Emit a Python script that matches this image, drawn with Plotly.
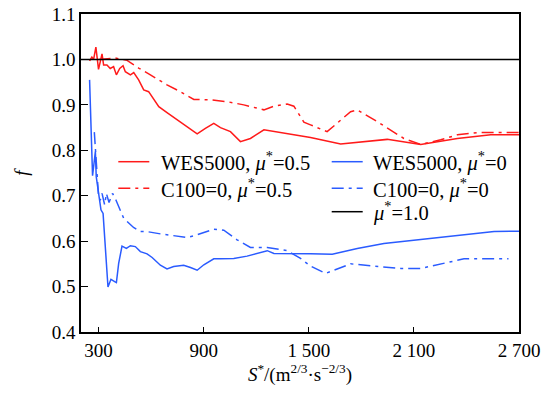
import plotly.graph_objects as go

# WES5000, mu*=0.5 (red solid)
red_solid_x = [249, 262, 272, 285, 300, 311, 320, 329, 348, 367, 386, 402, 421, 440, 453, 482, 501, 529, 558, 586,
               615, 644, 691, 739, 796, 863, 910, 958, 996, 1053, 1110, 1167, 1244, 1396, 1510, 1682, 1948, 2139,
               2348, 2539, 2700]
red_solid_y = [0.997, 1.005, 1.0, 1.027, 0.978, 1.0, 1.012, 0.988, 0.988, 0.980, 0.984, 0.966, 0.980, 0.986, 0.973,
               0.966, 0.971, 0.955, 0.933, 0.929, 0.911, 0.896, 0.883, 0.870, 0.853, 0.836, 0.848, 0.859, 0.850,
               0.841, 0.819, 0.826, 0.845, 0.835, 0.828, 0.814, 0.824, 0.813, 0.826, 0.834, 0.834]

# C100=0, mu*=0.5 (red dash-dot)
red_dd_x = [300, 396, 463, 529, 596, 691, 767, 844, 939, 1034, 1129, 1244, 1301, 1377, 1415, 1472, 1510, 1605,
            1739, 1777, 1891, 2043, 2139, 2253, 2348, 2463, 2700]
red_dd_y = [1.0, 1.003, 0.998, 0.981, 0.966, 0.944, 0.929, 0.912, 0.911, 0.907, 0.900, 0.889, 0.897, 0.902, 0.897,
            0.862, 0.856, 0.841, 0.885, 0.889, 0.863, 0.826, 0.813, 0.823, 0.834, 0.839, 0.839]

# WES5000, mu*=0 (blue solid)
blue_solid_x = [249, 266, 282, 287, 314, 326, 354, 371, 392, 402, 415, 434, 459, 482, 510, 539, 577, 606, 653, 691,
                729, 786, 825, 863, 901, 958, 996, 1072, 1148, 1206, 1263, 1301, 1415, 1510, 1634, 1777, 1929, 2158,
                2386, 2558, 2700]
blue_solid_y = [0.955, 0.744, 0.797, 0.742, 0.669, 0.661, 0.499, 0.516, 0.511, 0.509, 0.551, 0.589, 0.584, 0.590,
                0.588, 0.577, 0.572, 0.564, 0.547, 0.539, 0.544, 0.547, 0.542, 0.536, 0.548, 0.561, 0.561, 0.562,
                0.567, 0.573, 0.579, 0.573, 0.573, 0.572, 0.571, 0.584, 0.595, 0.604, 0.614, 0.621, 0.622]

# C100=0, mu*=0 (blue dash-dot)
blue_dd_x = [276, 300, 310, 320, 335, 345, 360, 380, 400, 420, 444, 500, 539, 577, 653, 806, 863, 958, 1015, 1091,
             1167, 1263, 1377, 1453, 1510, 1596, 1739, 1872, 2024, 2139, 2253, 2386, 2640]
blue_dd_y = [0.84, 0.70, 0.69, 0.705, 0.68, 0.705, 0.685, 0.705, 0.69, 0.67, 0.650, 0.630, 0.621, 0.621, 0.616,
             0.608, 0.614, 0.626, 0.624, 0.603, 0.586, 0.586, 0.579, 0.562, 0.545, 0.529, 0.550, 0.545, 0.540,
             0.540, 0.550, 0.561, 0.561]

# mu*=1.0 reference line
ref_x = [200, 2700]
ref_y = [1.0, 1.0]

x_tickvals = [300, 900, 1500, 2100, 2700]
x_ticktext = ["300", "900", "1 500", "2 100", "2 700"]
y_tickvals = [0.4, 0.5, 0.6, 0.7, 0.8, 0.9, 1.0, 1.1]
y_ticktext = ["0.4", "0.5", "0.6", "0.7", "0.8", "0.9", "1.0", "1.1"]

series_names = ["WES5000, <i>μ</i><sup>*</sup>=0.5", "C100=0, <i>μ</i><sup>*</sup>=0.5",
                "WES5000, <i>μ</i><sup>*</sup>=0", "C100=0, <i>μ</i><sup>*</sup>=0",
                "<i>μ</i><sup>*</sup>=1.0"]

RED = "#ff1a1a"
BLUE = "#2a5bff"
DD = "12px,5px,3px,5px"
FONT = "Liberation Serif, Times New Roman, serif"
FS = 19
LFS = 20.5

series = [
    (red_solid_x, red_solid_y, RED, "solid"),
    (red_dd_x, red_dd_y, RED, DD),
    (blue_solid_x, blue_solid_y, BLUE, "solid"),
    (blue_dd_x, blue_dd_y, BLUE, DD),
    (ref_x, ref_y, "black", "solid"),
]

fig = go.Figure()
for (xs, ys, col, dash), nm in zip(series, series_names):
    fig.add_trace(go.Scatter(x=xs, y=ys, mode="lines", line=dict(color=col, width=1.5, dash=dash),
                             name=nm, showlegend=False))

# manual two-column legend (paper coordinates)
L, R, T, B = 81, 519, 14, 332
def px2paper(px, py):
    return (px - L) / (R - L), (B - py) / (B - T)

legend_slots = [  # (line x0, line x1, text x, row y) in pixels
    (118.3, 149.3, 159, 161.7),
    (118.3, 149.3, 159, 188.3),
    (331.7, 362.7, 371, 161.7),
    (331.7, 362.7, 371, 188.3),
    (331.7, 362.7, 371, 211.7),
]
for (x0, x1, tx, ry), (_, _, col, dash), nm in zip(legend_slots, series, series_names):
    a0, yy = px2paper(x0, ry)
    a1, _ = px2paper(x1, ry)
    at, _ = px2paper(tx, ry)
    fig.add_shape(type="line", xref="paper", yref="paper", x0=a0, x1=a1, y0=yy, y1=yy,
                  line=dict(color=col, width=1.5, dash=dash))
    fig.add_annotation(xref="paper", yref="paper", x=at, y=yy, text=nm, showarrow=False,
                       xanchor="left", yanchor="middle", font=dict(family=FONT, size=LFS, color="black"))

tickfont = dict(family=FONT, size=FS, color="black")

fig.update_layout(
    width=548, height=397,
    margin=dict(l=L, r=548 - R, t=T, b=397 - B, autoexpand=False),
    paper_bgcolor="white", plot_bgcolor="white",
    font=dict(family=FONT, size=FS, color="black"),
    showlegend=False,
    xaxis=dict(range=[200, 2700], tickvals=x_tickvals, ticktext=x_ticktext, ticks="inside", ticklen=5,
               tickwidth=1, tickcolor="black", showline=True, linecolor="black", linewidth=1.5, mirror=True,
               showgrid=False, zeroline=False, automargin=False, tickfont=tickfont,
               title=dict(text="<i>S</i><sup>*</sup>/(m<sup>2/3</sup>·s<sup>−2/3</sup>)", standoff=8,
                          font=dict(family=FONT, size=FS))),
    yaxis=dict(range=[0.4, 1.1], tickvals=y_tickvals, ticktext=y_ticktext, ticks="inside", ticklen=7,
               tickwidth=1, tickcolor="black", showline=True, linecolor="black", linewidth=1.5, mirror=True,
               showgrid=False, zeroline=False, automargin=False, tickfont=tickfont,
               title=dict(text="<i>f</i>", standoff=18, font=dict(family=FONT, size=FS))),
)

fig.write_html("out.html")
